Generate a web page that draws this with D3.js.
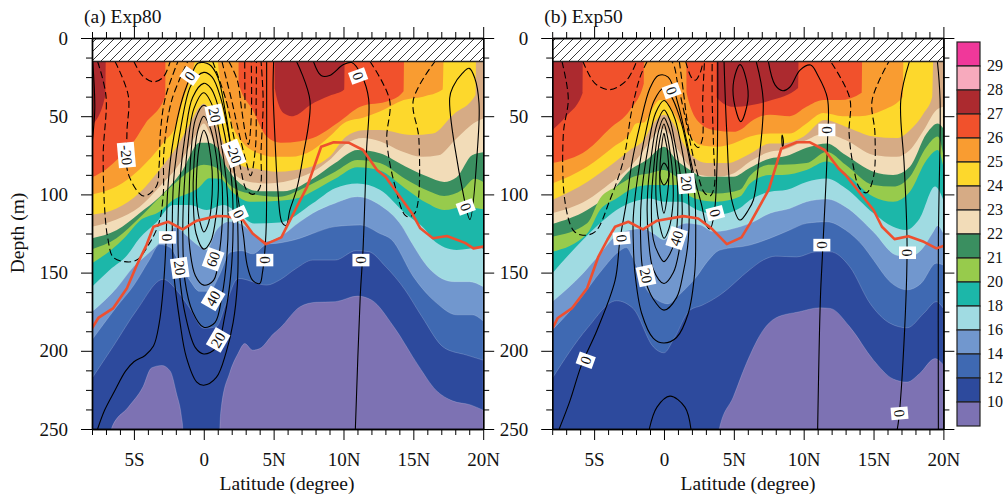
<!DOCTYPE html>
<html>
<head>
<meta charset="utf-8">
<script src="https://cdn.jsdelivr.net/npm/d3@7"></script>
<style>
    html, body { margin: 0; padding: 0; background: #fff; }
    text { font-family: "Liberation Serif", serif; fill: #111; }
</style>
</head>
<body>
<div id="chart"></div>
<script>
// colorbar, warmest first
const barColors = ["#f0389a", "#f7aabd", "#ac2a2f", "#f1512c", "#f99c31", "#fdd82c", "#d6ab85", "#f2dcb8",
    "#3a8f60", "#97cb4c", "#1cb7a9", "#a0dbe2", "#7197ce", "#3f69b2", "#2d4a9d", "#7d72b3"];
const barLabels = ["29", "28", "27", "26", "25", "24", "23", "22", "21", "20", "18", "16", "14", "12", "10"];

const latTicks = [-5, 0, 5, 10, 15, 20];
const latLabels = ["5S", "0", "5N", "10N", "15N", "20N"];
const depthTicks = [0, 50, 100, 150, 200, 250];

// isotherm depth, [lat, depth]. colder levels drawn on top of warmer ones
const a27 = [[-8,56],[-7.05,37],[-7,5],[5.05,5],[5.1,33],[5.7,48],[6.3,50],[6.7,49],[7.6,43],[9,37],[10.05,33],[10.1,5],[20,5]];
const a26 = [[-8,89],[-7,84],[-6,76],[-5,66],[-4.2,55],[-2.75,37],[-2.74,5],[2.49,5],[2.5,29],[3.5,46],[4.5,63],[5.5,67],[6.9,66],[7.8,64],[9.7,53.5],[11.2,44],[13.3,40],[14.3,34],[14.35,5],[20,5]];
const a25 = [[-8,100],[-6.25,95],[-4.6,84],[-2.9,67],[-1.96,55],[-1.5,40],[-1,27],[-0.65,15],[-0.5,5],[0.9,5],[1,15],[1.4,35],[2.1,57],[2.8,67],[4,74],[5,76],[6.2,76],[7.8,71.6],[9,63],[10.2,53.5],[11.4,51],[12.6,47],[14.3,39.6],[15.7,37.5],[17.1,33],[17.2,5],[20,5]];
const a24 = [[-8,113],[-6.25,109],[-4.6,99],[-3.15,84],[-1.96,70],[-1,55],[-0.3,44],[0,42],[0.43,46],[1.15,61],[1.86,76],[2.8,82],[4,84],[5.2,85.5],[7.8,82],[9,76],[10.2,63],[11.4,59],[12.6,58.8],[14.9,62],[16.4,61],[17.85,49],[19.45,36.5],[19.5,5],[20,5]];
const a23 = [[-8,120.7],[-6.25,116],[-4.6,108],[-3.15,95],[-1.7,80],[-0.5,61],[0,54.6],[0.43,61],[1.15,76],[2.1,86.6],[3.3,92],[4.5,93],[6.9,89],[7.8,85.5],[9,78],[10.2,67.6],[11.4,64],[12.6,66],[14.2,72.6],[15.6,76],[16.8,75],[18,65],[19.5,53.5],[20,51.5]];
const a22 = [[-8,128],[-6.25,123],[-4.6,112],[-3.15,101.5],[-1.5,84.4],[-0.3,67],[0.3,67],[0.9,69.5],[1.6,82],[2.6,93],[4,98],[5.7,98],[7.8,90],[9.4,80],[11,71.6],[12.6,73.7],[14.4,82],[16,88.6],[17.2,92],[18.1,89],[19.2,75],[20,73]];
const a21 = [[-8,135],[-6.25,128],[-4.6,115],[-3.4,104],[-2.2,94],[-1,85],[0,81],[0.9,83],[1.86,94],[3.3,99.5],[5.44,101.5],[6.9,97],[7.8,93],[9.4,85.5],[11,78],[12.6,80],[14.4,90],[16,97.5],[17.2,101],[18.5,97],[19.4,90],[20,92]];
const a20 = [[-8,144],[-6.7,136],[-5.6,127],[-4.6,117],[-3.15,111],[-2.2,103.6],[-1,99],[-0.4,96],[0.4,89.6],[1.15,90],[2.1,99],[3.3,104.7],[5.44,104],[6.9,102],[7.8,98],[9.4,90],[11,82.6],[12.6,84.7],[14.4,96],[16,105.7],[17.2,110],[18.6,108],[20,109.5]];
const a18 = [[-8,159],[-6.7,148],[-5.5,139],[-4.6,128],[-3.4,118],[-2.2,106.8],[-1,106.8],[0.2,110],[1.4,106.8],[2.6,113],[3.6,118.6],[5.44,118],[7.8,105.6],[9.4,96],[11,93],[12.6,97],[14.4,112],[16,124],[16.4,129],[18.1,135.5],[19.8,134],[20,135]];
const a16 = [[-8,175],[-7,167],[-6.25,160],[-5,146],[-4,138],[-3.4,133],[-2.6,125],[-2,121],[-1.4,125],[-0.5,132],[0.2,135.5],[0.9,123],[1.86,117.4],[2.8,119.6],[3.6,126],[4.5,130],[5.44,127],[6.9,117.4],[7.8,112],[9.4,105.6],[11,101.5],[12.6,106.8],[14.2,120.6],[14.75,129],[16.2,148],[17.9,155.8],[19,155.8],[20,159]];
const a14 = [[-8,193],[-6.25,172],[-5,158],[-3.9,142],[-3.15,132],[-2.4,134],[-1.7,145],[-1,155],[-0.3,162],[0.4,162],[1.1,152],[1.9,137],[2.7,136],[3.5,138],[4.5,132],[5.44,131],[6.9,128],[7.8,125],[9.4,120.6],[11.2,119.6],[12.6,125],[13.45,129],[15,152.6],[16.67,169.5],[18.1,177],[19.2,177],[20,181]];
const a12 = [[-8,217.6],[-6.5,197.4],[-4.8,174],[-2.9,154.3],[-1.96,161],[-1,172.8],[0,185.6],[0.9,184.6],[1.6,169.6],[2.46,153.7],[4.5,158],[5.44,154.7],[6.6,147.4],[7.8,142],[9.4,142],[10.9,136],[11.8,136.6],[13,146],[14.4,161],[15.6,178],[17.2,198],[18.8,202.7],[20,206]];
const a10 = [[-8,270],[-6.61,270],[-6.6,249.5],[-5.4,236],[-4.35,223],[-3.75,211],[-3,209.4],[-2.4,213],[-1.96,227],[-1.6,242],[-1.5,250],[-1.49,270],[1.14,270],[1.15,250],[1.26,235.6],[1.86,214],[2.46,201.6],[2.93,195.4],[3.5,199.6],[4,198.6],[5,189],[5.44,185.6],[6.9,171.8],[8,169],[9.4,168.6],[11,165],[12,167.5],[13.6,184.6],[15.4,210],[16.6,225],[17.8,232],[19.1,234.6],[20,238]];
const aIso = [a27, a26, a25, a24, a23, a22, a21, a20, a18, a16, a14, a12, a10];

const b27 = [[-8,59],[-7,50],[-5.82,35],[-5.8,5],[3.75,5],[3.77,38],[4.96,44],[6.2,43],[7.6,40],[9.6,32],[9.65,5],[20,5]];
const b26 = [[-8,80],[-5.5,71.6],[-3.87,57.8],[-2.43,46],[-1.44,29],[-1.43,5],[1.61,5],[1.62,35],[2.6,54.6],[3.65,59],[4.96,60],[5.6,58],[6.2,53.5],[7.6,49],[9,50],[10.2,44],[11.4,39.7],[12.6,39.7],[14.15,35],[14.2,5],[20,5]];
const b25 = [[-8,93],[-5.5,82.3],[-3.6,69.5],[-2.43,61],[-2,54.6],[-1.43,54],[-0.88,46],[-0.3,39.7],[0,39.7],[0.43,44],[1.15,54.6],[1.86,63],[2.6,68.4],[3.77,69.5],[4.96,67.4],[6.16,63],[7.6,61],[9,61],[10.2,54.6],[11.4,48],[12.8,50],[14,50],[15.7,46],[17.1,37.5],[17.15,5],[20,5]];
const b24 = [[-8,103.6],[-5.5,92],[-3.6,80],[-2.43,71.6],[-1.43,65],[-0.76,54.6],[0,49],[0.67,54.6],[1.38,67.4],[2.1,76],[3.05,80],[4.5,80],[6.16,74],[7.6,67.4],[8.5,67.4],[10,63],[11.5,52.5],[13,56.7],[15,63],[16.66,64],[17.6,59],[18.6,48],[19.2,37.5],[19.3,5],[20,5]];
const b23 = [[-8,112],[-5.5,103.6],[-3.87,93],[-2.43,82.3],[-1.43,71.6],[-0.76,63],[-0.17,57.8],[0.43,62],[1.15,73.8],[1.86,82.3],[2.6,87.6],[3.77,88.7],[4.96,86.6],[6.16,79],[7.6,72.7],[8.5,71.6],[10,66],[11.5,61],[13,65.2],[15,74.8],[16.66,76],[17.6,71.6],[18.6,58.8],[19.5,46],[20,44]];
const b22 = [[-8,119],[-5.5,110],[-3.87,99.4],[-2.43,84.4],[-1.24,78],[0,69.5],[0.9,78],[1.86,84.4],[2.8,88.7],[4.96,88.7],[6.16,83],[7.6,77],[8.5,76],[10.45,69.5],[11.65,67.4],[13,74.8],[15,85.5],[16.4,87.6],[17.6,82.3],[18.8,61],[19.6,54.6],[20,57.8]];
const b21 = [[-8,127],[-5.5,118.5],[-4.58,102.6],[-3.4,95],[-2.2,88.7],[-1,86.5],[0,84.4],[0.9,88.7],[1.9,95],[2.6,98],[3.8,99.4],[5.44,97],[6.16,88],[7.6,81],[8.5,81],[10.2,80],[11.65,72.7],[13,81],[15,94],[16.4,95],[17.6,88.7],[18.8,69.5],[19.6,63],[20,74.8]];
const b20 = [[-8,136.7],[-5.5,125],[-4.58,110],[-3.4,102.6],[-2.2,96],[-1,94],[0,94],[0.9,94],[1.9,101.4],[2.6,103.6],[3.8,104.7],[5.44,101.4],[6.16,93],[7.6,87.6],[8.5,87.6],[10.2,84.4],[11.65,79],[13,86.6],[15,101.5],[16.4,104.7],[17.6,98.3],[18.8,78],[19.6,71.6],[20,82.3]];
const b18 = [[-8,150.5],[-5.8,129],[-4.58,118.5],[-3.4,110],[-2.2,104.7],[-1,102.6],[0,104.7],[1.15,104.7],[2.4,110],[3.8,113],[5.44,108.7],[6.16,103.6],[7.6,98.3],[8.8,97],[10.2,92],[11.65,89.8],[13,96],[15,112],[16.4,120.7],[17.3,122.8],[18.3,115.4],[19.4,95],[20,103.6]];
const b16 = [[-8,168.7],[-5.8,150.5],[-4.58,138],[-3.4,126],[-2.43,122.8],[-1.5,121.8],[-0.76,125],[0,129],[0.67,122.8],[1.6,118.5],[2.6,119.6],[3.55,123.8],[5.44,120.7],[6.16,118.5],[7.6,112],[9,109],[10.2,104.7],[11.65,103],[13,108],[15,124],[16.6,138.8],[17.5,140],[18.6,133.5],[19.2,125],[19.6,120],[20,125]];
const b14 = [[-8,186.8],[-6.1,168],[-4.5,149],[-3.15,136],[-2.7,134],[-2.2,141],[-1.3,160],[-0.4,168],[0.3,170],[1,165],[1.8,158],[2.3,153],[3.1,143],[4,135.6],[6.16,132.4],[7.6,128],[9,122.8],[10.2,118.5],[11.65,117.5],[13,122.8],[14.3,133.5],[15,142],[16.2,156],[17.4,161],[18.4,156.9],[19.5,144],[20,145.2]];
const b12 = [[-8,217.7],[-5.5,185.7],[-3.4,168],[-2.2,173],[-0.76,197.5],[0,201.3],[0.67,193],[1.86,174],[2.7,171],[4,164.4],[6.16,148],[7.1,142],[8,139.5],[9.5,140],[10.9,136.7],[11.9,136.7],[13.3,146.3],[14.75,169.7],[16.2,182.5],[17.4,185.3],[18.6,176],[19.5,168.6],[20,173]];
const b10 = [[-8,270],[3.9,270],[3.96,250],[4.96,229.5],[5.9,208],[7.1,186.8],[8,179],[9.7,175],[11.15,172.5],[11.9,172.9],[13.3,184.7],[15,206],[16.4,218],[17.4,220],[18.3,214.5],[19.4,205],[20,209]];
const bIso = [b27, b26, b25, b24, b23, b22, b21, b20, b18, b16, b14, b12, b10];

// thermocline, the red line
const aRed = [[-8,185.6],[-7.55,179],[-6.5,172.9],[-5.5,160],[-4.8,145.3],[-4.1,132.4],[-3.6,120.7],[-2.55,117.5],[-1.5,122.4],[-0.5,116.8],[0.9,113.9],[1.6,114],[2.8,116.4],[3.5,125],[4.45,131.8],[5.55,127.5],[6.6,109],[7.4,95],[8.4,69.5],[9.3,66.7],[10.4,67],[11.4,71.6],[12.4,84.4],[13,88.7],[14.9,112],[15.5,121.7],[16.4,128],[17.4,126.6],[18.7,131],[19.3,134.5],[20,133.4]];
const bRed = [[-8,186],[-7.6,179],[-6.6,172.9],[-5.5,160],[-4.7,139.9],[-4.05,129],[-3.5,120.7],[-2.55,117.5],[-1.5,122.4],[-0.5,116.8],[1.4,113.9],[2.45,115.4],[3.4,121.7],[4.5,131.8],[5.55,127.5],[6.16,118.5],[7.5,97],[8.4,70.6],[9.5,66.7],[10.45,66.7],[11.5,71.6],[12.5,83.4],[13,87.6],[15,110],[15.6,120.7],[16.5,128.6],[17.5,126.7],[18.6,130.3],[19.5,134.5],[20,133]];

// current contours
const aSolid = [
    [[-7.6,250],[-7.1,238],[-6.4,226],[-5.6,213],[-5,207],[-4.2,203],[-3.6,197],[-3.2,183],[-2.9,160],[-2.7,130],[-2.6,100],[-2.3,72],[-1.9,52],[-1.4,35],[-0.9,24],[-0.4,16],[0.4,17],[1,25],[1.6,50],[2.1,80],[2.5,105],[2.85,127],[3.1,145],[3.5,155],[4,157],[4.2,150],[4.45,125],[4.5,90],[4.5,40],[4.5,15]],
    [[5,15],[4.96,33],[5.08,61],[5.3,97],[5.6,118],[5.9,120],[6.16,110],[6.64,97],[7.1,76],[7.6,40],[6.64,15]],
    [[7.85,15],[8.4,24],[9,24],[10,17],[10.6,15.7],[11.3,24],[11.8,39],[11.65,72],[11.4,135],[11.2,165],[10.85,250]],
    [[-7.95,15],[-7.8,45],[-8,68]]
];
const aDashed = [
    [[-7.6,15],[-7,37],[-7.2,75],[-7.05,115],[-6.85,129],[-6.5,140],[-5.66,143],[-4.8,142],[-3.87,131],[-3.2,118],[-2.9,100],[-2.85,72],[-2.3,40],[-1.15,15]],
    [[-6.35,15],[-5.4,37],[-5.5,61],[-5.4,87],[-4.3,101],[-3.4,95],[-3.2,82],[-3.1,60],[-2.75,38],[-1.85,15]],
    [[-5,15],[-4.4,24],[-3.6,28],[-2.9,25],[-2.4,15]],
    [[0.64,15],[1.6,40],[2.1,61],[2.6,82],[3.05,97],[3.5,100],[4,96],[4.1,72],[4.25,40],[4.1,15]],
    [[1.3,15],[2,40],[2.5,60],[3,78],[3.35,88],[3.7,70],[3.75,40],[3.77,15]],
    [[1.8,15],[2.4,27],[2.7,45],[3,62],[3.2,68],[3.4,50],[3.4,15]],
    [[2.93,15],[2.95,45]],
    [[11.9,15],[13.3,39.6],[13.1,65],[13.7,95],[14.5,114],[15.1,112],[15.4,65],[15,39.6],[16.55,15]]
];
const aLoops = [
    [[0,22],[-0.9,30],[-1.6,55],[-2.1,85],[-2.25,115],[-2.15,150],[-1.7,182],[-1.25,204],[-0.5,220],[0,222],[0.9,217],[1.6,201],[2.1,182],[2.4,158],[2.45,127],[2.3,95],[1.85,65],[1.2,38],[0.6,25]],
    [[0,29],[-0.8,38],[-1.3,60],[-1.7,90],[-1.85,120],[-1.75,150],[-1.3,178],[-0.6,198],[0,202],[0.9,198],[1.5,178],[1.95,150],[2.1,120],[2,92],[1.5,62],[0.9,40],[0.5,32]],
    [[0,35],[-0.7,45],[-1.1,65],[-1.4,95],[-1.5,125],[-1.35,155],[-0.8,175],[0,185],[0.8,182],[1.3,165],[1.65,140],[1.75,115],[1.6,90],[1.2,65],[0.7,45]],
    [[0,43],[-0.6,52],[-0.9,72],[-1.05,100],[-1.05,130],[-0.6,152],[0,158],[0.7,155],[1.15,135],[1.35,110],[1.25,85],[0.9,62],[0.5,48]],
    [[0,50],[-0.45,60],[-0.7,80],[-0.75,105],[-0.55,125],[0,135],[0.5,130],[0.9,112],[1.05,92],[0.8,70],[0.4,56]],
    [[0,59],[-0.3,68],[-0.5,85],[-0.5,105],[-0.2,120],[0,124],[0.35,118],[0.6,100],[0.6,85],[0.4,70],[0.2,62]],
    [[17.6,38.5],[17.85,31],[18.5,22.6],[19,19.4],[19.4,25.7],[19.7,41.7],[19.6,69.5],[19.05,116],[18.6,101]]
];

const bSolid = [
    [[-7.5,250],[-6.73,232],[-5.9,209],[-4.8,187],[-3.5,155],[-3.15,129],[-2.67,104],[-2.3,80],[-1.7,55],[-1,32],[-0.4,24],[0.3,25],[1,42],[1.6,65],[2.2,90],[2.7,107],[3.05,120],[3.3,122],[3.6,112],[3.8,80],[3.85,40],[3.85,15]],
    [[4.3,15],[4.5,61],[4.85,103.6],[5.44,116.4],[6.04,110],[6.4,103.6],[6.75,82],[7.1,39.7],[6.6,15]],
    [[7.47,15],[7.95,30],[8.5,33.7],[9,31.5],[9.74,20.5],[10.5,17.3],[11,23.7],[11.7,38.6],[11.7,68],[11.36,135.6],[11.2,165.5],[11,250]],
    [[17.57,15],[16.95,39.7],[17.2,82.3],[17.4,135],[17.1,208],[16.8,244],[16.7,250]],
    [[19.57,15],[19.76,39],[19.64,130],[19.64,250]],
    [[-1.05,250],[-0.5,236],[0.43,229],[1.5,236],[1.93,250]]
];
const bDashed = [
    [[-7.3,15],[-6.85,38.6],[-7.2,61],[-7.1,103.6],[-6.5,122.8],[-5.9,126],[-4.94,124],[-3.87,103.6],[-2.9,78],[-2.3,46],[-1.7,24.7],[-1.2,15]],
    [[-5.8,15],[-4.94,29],[-3.87,33],[-2.67,27],[-1.96,15]],
    [[-1.2,15],[-0.3,13],[0.55,15],[1,30],[1.5,50],[2,72],[2.5,90],[2.9,99],[3.3,101],[3.6,95],[3.55,70],[3.45,40],[3.45,15]],
    [[1.1,15],[1.4,35],[1.7,55],[2,65],[2.45,70],[2.74,65],[2.77,40],[2.9,15]],
    [[1.55,15],[1.95,25],[2.25,27],[2.6,22],[2.8,15]],
    [[12,16],[13.3,38.6],[13.25,61],[13.56,82.3],[14,96],[14.5,99],[15,88.7],[15.1,61],[14.9,39.7],[16.1,15]]
];
const bLoops = [
    [[0,32],[-0.7,40],[-1.3,60],[-1.9,90],[-2.2,115],[-2.2,129],[-2.08,150],[-1.6,176],[-0.76,192],[0,195],[0.9,191.5],[1.74,176],[2.2,150],[2.27,129],[2.2,100],[1.7,72],[1.1,50],[0.5,37]],
    [[0,40],[-0.6,48],[-1.1,68],[-1.6,100],[-1.67,129],[-1.48,150],[-0.76,167],[0,174],[0.9,166],[1.38,150],[1.74,129],[1.75,100],[1.3,72],[0.8,52],[0.4,44]],
    [[0,46],[-0.5,55],[-0.9,75],[-1.2,105],[-1.1,129],[-0.76,148],[0,157],[0.67,150],[1.1,135],[1.3,115],[1.2,90],[0.8,68],[0.4,52]],
    [[0,51],[-0.4,60],[-0.7,80],[-0.9,105],[-0.76,129],[-0.4,138],[0,143],[0.43,138],[0.8,129],[1,105],[0.85,82],[0.5,62],[0.25,55]],
    [[0,55],[-0.3,65],[-0.55,85],[-0.55,105],[-0.3,120],[0,128],[0.35,122],[0.65,105],[0.6,85],[0.35,68],[0.15,59]],
    [[0,61],[-0.2,72],[-0.3,88],[-0.25,100],[0,112],[0.25,100],[0.35,88],[0.25,72],[0.1,65]],
    [[0,80],[-0.3,87.5],[0,94],[0.38,87]],
    [[5.44,17],[5,27],[5,40],[5.5,53.5],[6,40],[5.9,27]],
    [[8.46,62],[8.55,66],[8.5,70],[8.44,66]]
];

// contour labels: lat, depth, text, rotation
const aTags = [[-1,24.3,"0",-55],[0.79,49.2,"20",78],[-5.54,74.8,"-20",85],[2.15,73.8,"-20",68],[2.5,112.6,"0",65],[-2.6,127.5,"0",90],[4.37,142,"0",90],[-1.72,147,"20",82],[0.67,141.5,"60",-70],[0.67,166.5,"40",-60],[1.03,193,"20",-60],[11.25,142,"0",90],[11.05,24.3,"0",70],[18.75,108,"0",70]];
const bTags = [[0.55,33.7,"0",70],[1.62,93,"20",85],[3.67,112,"0",75],[-3.03,128,"0",85],[0.9,128,"40",-72],[-1.29,152,"20",78],[-5.6,206,"0",-70],[11.66,58.8,"0",90],[11.3,132.4,"0",90],[17.43,137.3,"0",90],[16.86,240,"0",85]];

const width = 1003, height = 496;
const plotTop = 38, plotBottom = 429;

const svg = d3.select("#chart").append("svg")
    .attr("width", width)
    .attr("height", height)
    .style("display", "block");

const defs = svg.append("defs");
defs.append("pattern")
    .attr("id", "hatch")
    .attr("patternUnits", "userSpaceOnUse")
    .attr("width", 9)
    .attr("height", 9)
    .append("path")
    .attr("d", "M-1,10 L10,-1 M-1,1 L1,-1 M8,10 L10,8")
    .attr("stroke", "#222")
    .attr("stroke-width", 0.9)
    .attr("fill", "none");

function drawPanel(id, left, right, title, xTitleAt, iso, red, solid, dashed, loops, tags) {
    const x = d3.scaleLinear().domain([-8, 20]).range([left, right]);
    const y = d3.scaleLinear().domain([0, 250]).range([plotTop, plotBottom]);

    defs.append("clipPath").attr("id", "clip" + id)
        .append("rect")
        .attr("x", left).attr("y", plotTop)
        .attr("width", right - left).attr("height", plotBottom - plotTop);

    const plot = svg.append("g").attr("clip-path", `url(#clip${id})`);

    // warmest water is the background
    plot.append("rect")
        .attr("x", left).attr("y", plotTop)
        .attr("width", right - left).attr("height", plotBottom - plotTop)
        .attr("fill", barColors[2]);

    const area = d3.area()
        .x(d => x(d[0]))
        .y0(plotBottom + 5)
        .y1(d => y(d[1]))
        .curve(d3.curveMonotoneX);

    plot.selectAll("path.iso")
        .data(iso)
        .join("path")
        .attr("class", "iso")
        .attr("d", area)
        .attr("fill", (d, i) => barColors[i + 3])
        .attr("stroke", "#fff")
        .attr("stroke-opacity", (d, i) => i > 8 ? 0.3 : 0)
        .attr("stroke-width", 0.6);

    const line = d3.line().x(d => x(d[0])).y(d => y(d[1])).curve(d3.curveCatmullRom);
    const loop = d3.line().x(d => x(d[0])).y(d => y(d[1])).curve(d3.curveCatmullRomClosed);

    plot.selectAll("path.solid").data(solid).join("path")
        .attr("class", "solid").attr("d", line)
        .attr("fill", "none").attr("stroke", "#000").attr("stroke-width", 1.1);
    plot.selectAll("path.dashed").data(dashed).join("path")
        .attr("class", "dashed").attr("d", line)
        .attr("fill", "none").attr("stroke", "#000").attr("stroke-width", 1.1)
        .attr("stroke-dasharray", "7,3.5");
    plot.selectAll("path.loop").data(loops).join("path")
        .attr("class", "loop").attr("d", loop)
        .attr("fill", "none").attr("stroke", "#000").attr("stroke-width", 1.1);

    plot.append("path")
        .datum(red)
        .attr("d", d3.line().x(d => x(d[0])).y(d => y(d[1])))
        .attr("fill", "none")
        .attr("stroke", "#ee4f2f")
        .attr("stroke-width", 2.6)
        .attr("stroke-linejoin", "round");

    // land/no data strip
    plot.append("rect")
        .attr("x", left).attr("y", y(0))
        .attr("width", right - left).attr("height", y(15) - y(0))
        .attr("fill", "#fff");
    plot.append("rect")
        .attr("x", left).attr("y", y(0))
        .attr("width", right - left).attr("height", y(15) - y(0))
        .attr("fill", "url(#hatch)");
    plot.append("line")
        .attr("x1", left).attr("x2", right)
        .attr("y1", y(15)).attr("y2", y(15))
        .attr("stroke", "#222").attr("stroke-width", 1.4);

    // labels on the contours
    const tag = svg.append("g").selectAll("g").data(tags).join("g")
        .attr("transform", d => `translate(${x(d[0])},${y(d[1])}) rotate(${d[3]})`);
    tag.append("text")
        .attr("text-anchor", "middle")
        .attr("dy", "0.34em")
        .attr("font-size", 15)
        .text(d => d[2]);
    tag.insert("rect", "text")
        .attr("fill", "#fff")
        .each(function (d) {
            const w = this.parentNode.querySelector("text").getComputedTextLength() + 5;
            d3.select(this).attr("x", -w / 2).attr("y", -8.5).attr("width", w).attr("height", 17);
        });

    // axes
    const minorLat = d3.range(-8, 21).filter(d => d % 5 !== 0);
    const minorDepth = d3.range(0, 251, 12.5).filter(d => d % 50 !== 0);
    const fmtLat = d => latLabels[latTicks.indexOf(d)];

    const addAxis = (axis, tx, ty) => svg.append("g")
        .attr("transform", `translate(${tx},${ty})`)
        .call(axis.tickSizeOuter(0));

    const xBottom = addAxis(d3.axisBottom(x).tickValues(latTicks).tickFormat(fmtLat).tickSize(11).tickPadding(13), 0, plotBottom);
    addAxis(d3.axisBottom(x).tickValues(minorLat).tickFormat("").tickSize(6), 0, plotBottom);
    addAxis(d3.axisTop(x).tickValues(latTicks).tickFormat("").tickSize(11), 0, plotTop);
    addAxis(d3.axisTop(x).tickValues(minorLat).tickFormat("").tickSize(6), 0, plotTop);
    const yLeft = addAxis(d3.axisLeft(y).tickValues(depthTicks).tickSize(11).tickPadding(13), left, 0);
    addAxis(d3.axisLeft(y).tickValues(minorDepth).tickFormat("").tickSize(6), left, 0);
    addAxis(d3.axisRight(y).tickValues(depthTicks).tickFormat("").tickSize(11), right, 0);
    addAxis(d3.axisRight(y).tickValues(minorDepth).tickFormat("").tickSize(6), right, 0);

    xBottom.attr("font-family", null).attr("font-size", 19);
    yLeft.attr("font-family", null).attr("font-size", 19);
    svg.selectAll(".domain").attr("stroke", "#000").attr("stroke-width", 1.4);
    svg.selectAll(".tick line").attr("stroke", "#000").attr("stroke-width", 1);

    svg.append("text").attr("x", left - 8).attr("y", 23).attr("font-size", 19.5).text(title);
    svg.append("text").attr("x", xTitleAt).attr("y", 490)
        .attr("text-anchor", "middle").attr("font-size", 19.5).text("Latitude (degree)");
}

drawPanel("a", 92, 483.2, "(a) Exp80", 287, aIso, aRed, aSolid, aDashed, aLoops, aTags);
drawPanel("b", 552.2, 943.4, "(b) Exp50", 748, bIso, bRed, bSolid, bDashed, bLoops, bTags);

svg.append("text")
    .attr("transform", "translate(24,233) rotate(-90)")
    .attr("text-anchor", "middle")
    .attr("font-size", 19.5)
    .text("Depth (m)");

// colorbar
const barY = d3.scaleBand().domain(d3.range(barColors.length)).range([42, 426]);
svg.append("g").selectAll("rect")
    .data(barColors)
    .join("rect")
    .attr("x", 957)
    .attr("y", (d, i) => barY(i))
    .attr("width", 23)
    .attr("height", barY.bandwidth())
    .attr("fill", d => d)
    .attr("stroke", "#222")
    .attr("stroke-width", 1.2);
svg.append("g").selectAll("text")
    .data(barLabels)
    .join("text")
    .attr("x", 987)
    .attr("y", (d, i) => barY(i + 1))
    .attr("dy", "0.34em")
    .attr("font-size", 16)
    .text(d => d);
</script>
</body>
</html>
